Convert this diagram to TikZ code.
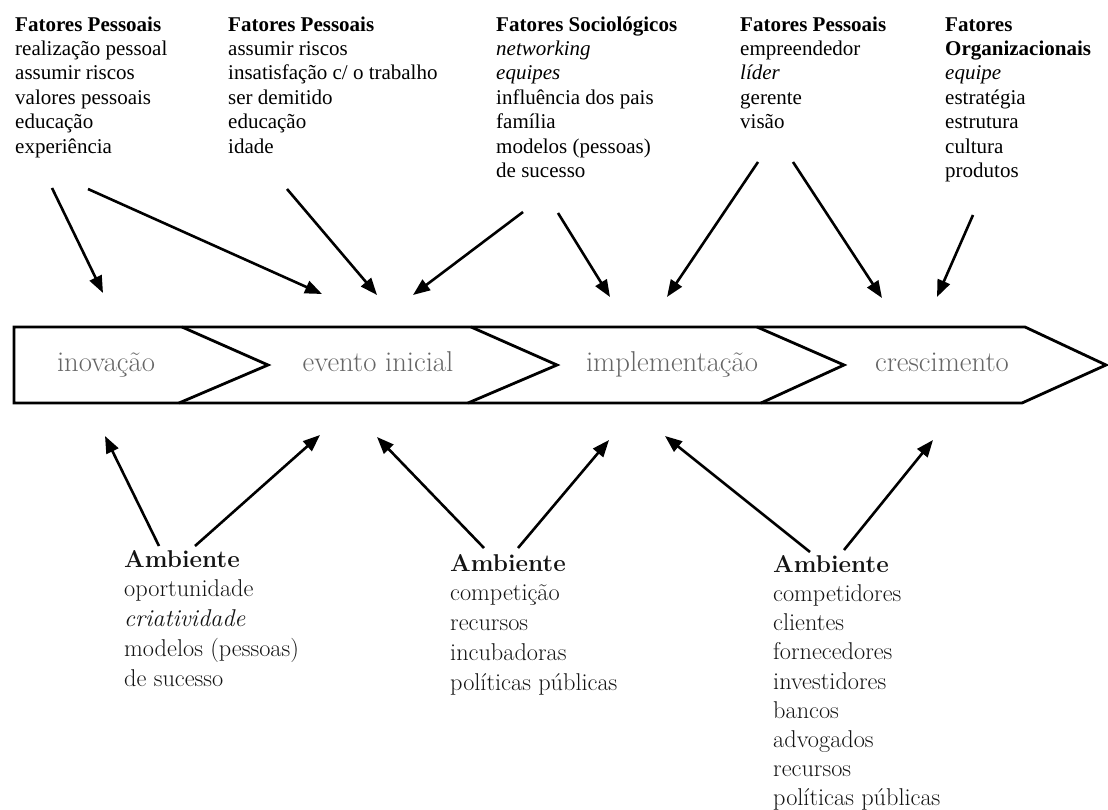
\documentclass[tikz,border=0pt]{standalone}
\usepackage{fontspec}
\newfontfamily\timesf{Liberation Serif}
\usetikzlibrary{arrows.meta}
\definecolor{lbl}{gray}{0.4}
\definecolor{btxt}{gray}{0.08}
\begin{document}
\begin{tikzpicture}[x=1pt,y=-1pt,
 topcol/.style={anchor=north west, inner sep=0pt, align=left, font=\timesf\fontsize{21}{24.4}\selectfont},
 botcol/.style={anchor=north west, inner sep=0pt, align=left, font=\fontsize{24.3}{29.7}\selectfont, text=btxt},
 stage/.style={anchor=base, inner sep=0pt, font=\fontsize{28.7}{30}\selectfont, text=lbl},
 arr/.style={line width=2.6pt, -{Triangle[length=17pt,width=13pt]}},
 band/.style={line width=2.8pt, line join=miter}]
\useasboundingbox[fill=white] (0,0) rectangle (1108,810);

% top factor columns
\node[topcol] (c1) at (15,16) {\rule{0pt}{15pt}\textbf{Fatores Pessoais}\\ realização pessoal\\ assumir riscos\\ valores pessoais\\ educação\\ experiência};
\node[topcol] (c2) at (228,16) {\rule{0pt}{15pt}\textbf{Fatores Pessoais}\\ assumir riscos\\ insatisfação c/ o trabalho\\ ser demitido\\ educação\\ idade};
\node[topcol] (c3) at (496,16) {\rule{0pt}{15pt}\textbf{Fatores Sociológicos}\\ \textit{networking}\\ \textit{equipes}\\ influência dos pais\\ família\\ modelos (pessoas)\\ de sucesso};
\node[topcol] (c4) at (740,16) {\rule{0pt}{15pt}\textbf{Fatores Pessoais}\\ empreendedor\\ \textit{líder}\\ gerente\\ visão};
\node[topcol] (c5) at (945,16) {\rule{0pt}{15pt}\textbf{Fatores}\\ \textbf{Organizacionais}\\ \textit{equipe}\\ estratégia\\ estrutura\\ cultura\\ produtos};

% band
\draw[band] (14,327) -- (1025,327) -- (1106,365) -- (1022,403) -- (14,403) -- cycle;
\draw[band] (182,327) -- (268,365) -- (179,403);
\draw[band] (471,327) -- (557,365) -- (468,403);
\draw[band] (757,327) -- (844,365) -- (761,403);

\node[stage] (s1) at (106,371) {inovação};
\node[stage] (s2) at (378,371) {evento inicial};
\node[stage] (s3) at (672,371) {implementação};
\node[stage] (s4) at (942,371) {crescimento};

% bottom environment columns
\node[botcol] (b1) at (124,550) {\rule{0pt}{17pt}\textbf{Ambiente}\\ oportunidade\\ \textit{criatividade}\\ modelos (pessoas)\\ de sucesso};
\node[botcol] (b2) at (450,554) {\rule{0pt}{17pt}\textbf{Ambiente}\\ competição\\ recursos\\ incubadoras\\ políticas públicas};
\node[botcol, font=\fontsize{24.3}{29.2}\selectfont] (b3) at (773,555) {\rule{0pt}{17pt}\textbf{Ambiente}\\ competidores\\ clientes\\ fornecedores\\ investidores\\ bancos\\ advogados\\ recursos\\ políticas públicas};

% arrow end points
\coordinate (a1s) at (52,188);  \coordinate (a1e) at (103,293);
\coordinate (a2s) at (88,189);  \coordinate (a2e) at (322,294);
\coordinate (a3s) at (287,189); \coordinate (a3e) at (377,295);
\coordinate (a4s) at (523,212); \coordinate (a4e) at (413,295);
\coordinate (a5s) at (558,213); \coordinate (a5e) at (610,297);
\coordinate (a6s) at (758,162); \coordinate (a6e) at (667,297);
\coordinate (a7s) at (793,162); \coordinate (a7e) at (882,298);
\coordinate (a8s) at (973,215); \coordinate (a8e) at (937,297);
\coordinate (d1s) at (159,546); \coordinate (d1e) at (105,436);
\coordinate (d2s) at (195,546); \coordinate (d2e) at (320,435);
\coordinate (d3s) at (484,548); \coordinate (d3e) at (377,437);
\coordinate (d4s) at (518,548); \coordinate (d4e) at (609,440);
\coordinate (d5s) at (810,552); \coordinate (d5e) at (665,436);
\coordinate (d6s) at (844,550); \coordinate (d6e) at (933,440);

\foreach \n in {a1,a2,a3,a4,a5,a6,a7,a8,d1,d2,d3,d4,d5,d6}
  \draw[arr] (\n s) -- (\n e);
\end{tikzpicture}
\end{document}
